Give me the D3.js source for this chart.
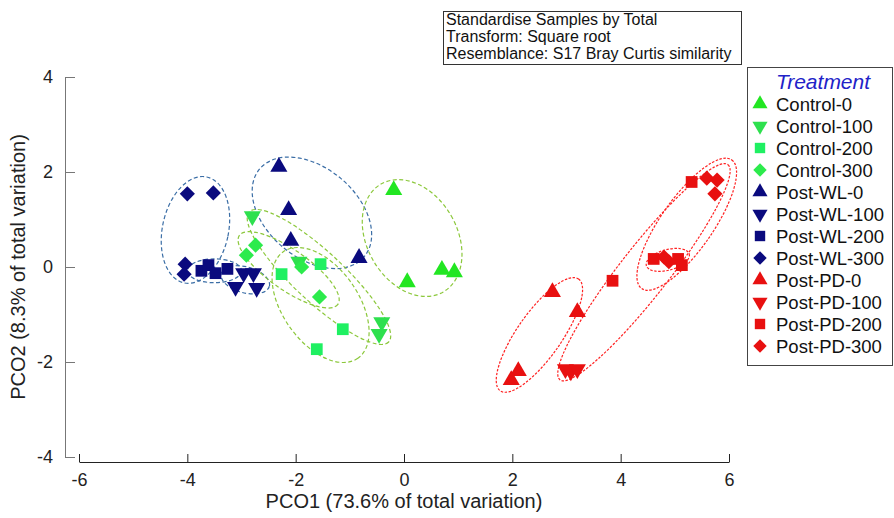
<!DOCTYPE html>
<html>
<head>
<meta charset="utf-8">
<script src="https://cdn.jsdelivr.net/npm/d3@7"></script>
<style>
  body { margin: 0; background: #fff; }
  svg { display: block; font-family: "Liberation Sans", Arial, sans-serif; }
</style>
</head>
<body>
<div id="chart"></div>
<script>
// groups shown in the legend
const groups = ['Control-0', 'Control-100', 'Control-200', 'Control-300',
  'Post-WL-0', 'Post-WL-100', 'Post-WL-200', 'Post-WL-300',
  'Post-PD-0', 'Post-PD-100', 'Post-PD-200', 'Post-PD-300'];
const shapes = ['up', 'down', 'square', 'diamond', 'up', 'down', 'square', 'diamond', 'up', 'down', 'square', 'diamond'];
const colors = ['#22e622', '#2ee04e', '#1ff062', '#2ceb4c',
  '#0a0a7e', '#0a0a7e', '#0a0a7e', '#0a0a7e',
  '#e81010', '#e81010', '#e81010', '#e81010'];

// PCO scores per group
const pco1 = [
  [-0.19, 0.06, 0.70, 0.93],
  [-2.80, -1.94, -0.41, -0.46],
  [-2.26, -1.54, -1.13, -1.61],
  [-2.74, -2.91, -1.89, -1.56],
  [-2.31, -2.13, -2.09, -0.83],
  [-2.96, -2.78, -3.11, -2.72],
  [-3.74, -3.61, -3.48, -3.26],
  [-4.00, -3.52, -4.04, -4.06],
  [2.74, 3.20, 2.11, 1.98],
  [2.98, 3.08, 3.20],
  [3.85, 4.61, 5.06, 5.13, 5.31],
  [5.59, 5.78, 5.74, 4.80, 4.89]
];
const pco2 = [
  [1.62, -0.32, -0.06, -0.11],
  [1.07, 0.11, -1.16, -1.41],
  [-0.15, 0.06, -1.31, -1.73],
  [0.46, 0.25, 0.00, -0.63],
  [2.11, 1.20, 0.55, 0.19],
  [-0.13, -0.13, -0.42, -0.44],
  [-0.08, 0.04, -0.13, -0.04],
  [1.54, 1.56, 0.06, -0.15],
  [-0.53, -0.95, -2.19, -2.38],
  [-2.15, -2.20, -2.15],
  [-0.29, 0.17, 0.17, 0.04, 1.79],
  [1.87, 1.83, 1.54, 0.21, 0.11]
];

// dashed cluster ellipses (centre in PCO units, semi-axes in PCO1 units, tilt in degrees)
const ellipseCx = [-3.85, -1.70, -3.50, -2.93, 0.15, -1.57, -1.54, -2.13, 2.50, 4.43, 5.22, 4.87];
const ellipseCy = [0.78, 1.14, -0.08, -0.27, 0.61, -0.21, -0.80, -0.06, -1.43, -0.11, 0.90, 0.15];
const ellipseA = [0.61, 1.26, 0.50, 0.46, 0.83, 1.76, 1.20, 1.11, 1.26, 2.52, 1.45, 0.41];
const ellipseB = [1.00, 0.83, 0.22, 0.24, 1.15, 0.46, 0.70, 0.37, 0.41, 0.45, 0.48, 0.19];
const ellipseTilt = [12, 40, 0, 15, -30, 43, 55, 35, -55, -52, -55, -15];
const ellipseSet = ['wl', 'wl', 'wl', 'wl', 'c', 'c', 'c', 'c', 'pd', 'pd', 'pd', 'pd'];

const xTicks = [-6, -4, -2, 0, 2, 4, 6];
const yTicks = [-4, -2, 0, 2, 4];
const infoLines = ['Standardise Samples by Total', 'Transform: Square root', 'Resemblance: S17 Bray Curtis similarity'];

const width = 894, height = 518;
const svg = d3.select('#chart').append('svg')
  .attr('width', width)
  .attr('height', height);

const x = d3.scaleLinear().domain([-6, 6]).range([79, 729]);
const y = d3.scaleLinear().domain([-4, 4]).range([457, 77]);
const pxPerUnit = x(1) - x(0);

// axes (plain hyphen for negatives, like the original)
const yAxis = svg.append('g')
  .attr('transform', 'translate(65,0)')
  .call(d3.axisLeft(y).tickValues(yTicks).tickFormat(d => String(d))
    .tickSizeInner(-10).tickSizeOuter(0).tickPadding(12));
yAxis.select('.domain').attr('stroke', '#777');
yAxis.selectAll('.tick line').attr('stroke', '#777');
yAxis.selectAll('text').attr('font-size', 18).attr('fill', '#222');

const xAxis = svg.append('g')
  .attr('transform', 'translate(0,462)')
  .call(d3.axisBottom(x).tickValues(xTicks).tickFormat(d => String(d))
    .tickSizeInner(-8).tickSizeOuter(0).tickPadding(11));
xAxis.select('.domain').attr('stroke', '#222');
xAxis.selectAll('.tick line').attr('stroke', '#222');
xAxis.selectAll('text').attr('font-size', 18).attr('fill', '#222');

svg.append('text')
  .attr('x', x(0)).attr('y', 508)
  .attr('text-anchor', 'middle')
  .attr('font-size', 20).attr('fill', '#222')
  .text('PCO1 (73.6% of total variation)');

svg.append('text')
  .attr('transform', 'translate(25,' + y(0) + ') rotate(-90)')
  .attr('text-anchor', 'middle')
  .attr('font-size', 20).attr('fill', '#222')
  .text('PCO2 (8.3% of total variation)');

// ellipses
const ellStroke = { wl: '#3b6ea6', c: '#8cc83c', pd: '#ff2222' };
const ellDash = { wl: '4,2.5', c: '4,2.5', pd: '2.5,1.5' };
const ellipses = ellipseCx.map((cx, i) => ({
  cx: cx, cy: ellipseCy[i], a: ellipseA[i], b: ellipseB[i], tilt: ellipseTilt[i], set: ellipseSet[i]
}));
svg.append('g').selectAll('ellipse')
  .data(ellipses)
  .enter()
  .append('ellipse')
  .attr('transform', d => 'translate(' + x(d.cx) + ',' + y(d.cy) + ') rotate(' + d.tilt + ')')
  .attr('rx', d => d.a * pxPerUnit)
  .attr('ry', d => d.b * pxPerUnit)
  .attr('fill', 'none')
  .attr('stroke', d => ellStroke[d.set])
  .attr('stroke-width', 1.2)
  .attr('stroke-dasharray', d => ellDash[d.set]);

// point symbols
function symbolPath(shape, s) {
  if (shape === 'square') return d3.symbol(d3.symbolSquare, s * 1.2)();
  if (shape === 'diamond') return d3.symbol(d3.symbolSquare, s)();
  return d3.symbol(d3.symbolTriangle, s * 1.1)();
}
function symbolRotate(shape) {
  if (shape === 'diamond') return 45;
  if (shape === 'down') return 180;
  return 0;
}

const points = [];
groups.forEach((g, i) => {
  pco1[i].forEach((v, j) => points.push({ group: i, x: v, y: pco2[i][j] }));
});

svg.append('g').selectAll('path')
  .data(points)
  .enter()
  .append('path')
  .attr('d', d => symbolPath(shapes[d.group], 115))
  .attr('transform', d => 'translate(' + x(d.x) + ',' + y(d.y) + ') rotate(' + symbolRotate(shapes[d.group]) + ')')
  .attr('fill', d => colors[d.group]);

// info box
const info = svg.append('g');
info.append('rect')
  .attr('x', 443.5).attr('y', 11.5).attr('width', 298).attr('height', 53)
  .attr('fill', '#fff').attr('stroke', '#333');
info.selectAll('text')
  .data(infoLines)
  .enter()
  .append('text')
  .attr('x', 446)
  .attr('y', (d, i) => 25 + i * 17)
  .attr('font-size', 16).attr('fill', '#111')
  .text(d => d);

// legend
const legend = svg.append('g');
legend.append('rect')
  .attr('x', 747.5).attr('y', 67.5).attr('width', 145).attr('height', 298)
  .attr('fill', '#fff').attr('stroke', '#444');
legend.append('text')
  .attr('x', 823).attr('y', 89)
  .attr('text-anchor', 'middle')
  .attr('font-size', 21).attr('font-style', 'italic')
  .attr('fill', '#2222c8')
  .text('Treatment');
const items = legend.selectAll('.item')
  .data(groups)
  .enter()
  .append('g')
  .attr('class', 'item')
  .attr('transform', (d, i) => 'translate(760,' + (104 + i * 22) + ')');
items.append('path')
  .attr('d', (d, i) => symbolPath(shapes[i], 90))
  .attr('transform', (d, i) => 'rotate(' + symbolRotate(shapes[i]) + ')')
  .attr('fill', (d, i) => colors[i]);
items.append('text')
  .attr('x', 16).attr('y', 6.5)
  .attr('font-size', 18.5).attr('fill', '#111')
  .text(d => d);
</script>
</body>
</html>
